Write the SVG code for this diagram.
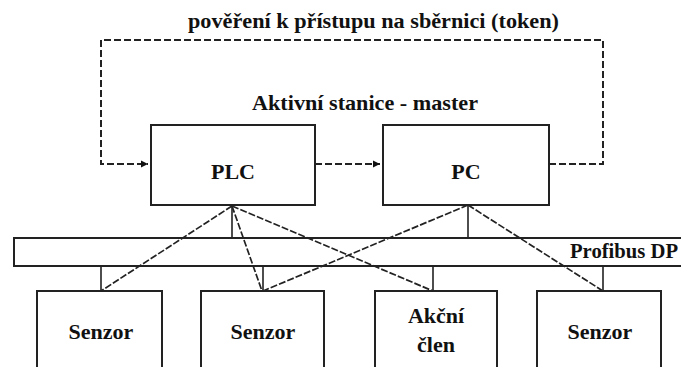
<svg xmlns="http://www.w3.org/2000/svg" width="681" height="367" viewBox="0 0 681 367">
<style>
.t{font-family:'Liberation Serif','Times New Roman',Times,serif;font-weight:bold;fill:#111;text-anchor:middle}
.box{fill:#fff;stroke:#222;stroke-width:2}
.bus{fill:none;stroke:#222;stroke-width:2}
.stub{stroke:#222;stroke-width:1.6;fill:none}
.token{fill:none;stroke:#222;stroke-width:2;stroke-dasharray:7 3}
.link{fill:none;stroke:#222;stroke-width:1.7;stroke-dasharray:7 2}
</style>
<defs>
<marker id="ah" markerWidth="8" markerHeight="8" refX="7" refY="4" orient="auto" markerUnits="userSpaceOnUse">
<path d="M0,0.5 L7,4 L0,7.5 Z" fill="#111"/>
</marker>
</defs>
<g font-family="Liberation Serif, Times New Roman, serif" font-weight="bold">
<text class="t" x="373.5" y="28" font-size="20" textLength="371" lengthAdjust="spacingAndGlyphs">pověření k přístupu na sběrnici (token)</text>
<text class="t" x="365" y="110" font-size="21" textLength="226" lengthAdjust="spacingAndGlyphs">Aktivní stanice - master</text>
<g id="bus">
<rect class="bus" x="14" y="238" width="680" height="28"/>
<text class="t" x="570" y="258" font-size="21" textLength="108" lengthAdjust="spacingAndGlyphs" style="text-anchor:start">Profibus DP</text>
</g>
<g id="plc">
<rect class="box" x="151" y="125" width="164" height="80"/>
<text class="t" x="233" y="179" font-size="22">PLC</text>
</g>
<g id="pc">
<rect class="box" x="383" y="125" width="166" height="80"/>
<text class="t" x="466" y="179" font-size="22">PC</text>
</g>
<g id="senzor1">
<rect class="box" x="37" y="291" width="125" height="100"/>
<text class="t" x="101" y="339" font-size="22">Senzor</text>
</g>
<g id="senzor2">
<rect class="box" x="201" y="291" width="123" height="100"/>
<text class="t" x="263" y="339" font-size="22">Senzor</text>
</g>
<g id="akcni">
<rect class="box" x="375" y="291" width="122" height="100"/>
<text class="t" x="436" y="323" font-size="22">Akční</text>
<text class="t" x="436" y="352" font-size="22">člen</text>
</g>
<g id="senzor4">
<rect class="box" x="537" y="291" width="124" height="100"/>
<text class="t" x="600" y="339" font-size="22">Senzor</text>
</g>
</g>
<g id="connectors">
<path class="stub" d="M232 205 V238 M468 205 V238 M101 266 V291 M263 266 V291 M433 266 V291 M603 266 V291"/>
<path class="token" d="M549 164 H603 V40 H101 V164 H148" marker-end="url(#ah)"/>
<path class="token" d="M315 164 H380" marker-end="url(#ah)"/>
<path class="link" d="M232 206 L101 291"/>
<path class="link" d="M232 206 L262 291"/>
<path class="link" d="M232 206 L433 291"/>
<path class="link" d="M468 205 L263 291"/>
<path class="link" d="M468 205 L603 291"/>
</g>
</svg>
